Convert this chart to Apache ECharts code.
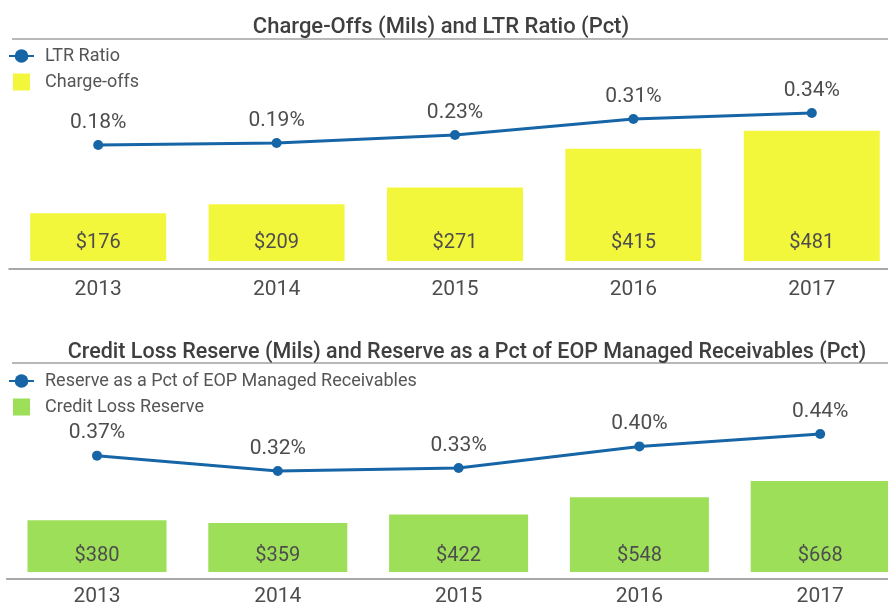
<!DOCTYPE html>
<html><head><meta charset="utf-8">
<script src="https://cdn.jsdelivr.net/npm/echarts@6/dist/echarts.min.js"></script>
<style>html,body{margin:0;padding:0;background:#fff}#c{width:888px;height:603px}</style>
</head><body><div id="c"></div>
<script>
const years = ['2013','2014','2015','2016','2017'];
const ltrRatio = [0.18,0.19,0.23,0.31,0.34];
const chargeOffs = [176,209,271,415,481];
const reservePct = [0.37,0.32,0.33,0.40,0.44];
const creditLossReserve = [380,359,422,548,668];

const FONT = "'Roboto','Noto Sans',sans-serif";
const TXT = '#4d4d4d';
const BLUE = '#1665a6';
const YELLOW = '#f3f73c';
const GREEN = '#9ddf58';
const AXIS = '#8c8c8c';

const chart = echarts.init(document.getElementById('c'), null, {renderer:'canvas'});
const pctLabel = p => p.value.toFixed(2) + '%';
const dolLabel = p => '$' + p.value;

chart.setOption({
  animation:false,
  textStyle:{fontFamily:FONT},
  title:[
    {text:'Charge-Offs (Mils) and LTR Ratio (Pct)', left:436, top:11, textAlign:'center',
     textStyle:{fontFamily:FONT, fontSize:22, fontWeight:500, color:'#3f3f3f'}},
    {text:'Credit Loss Reserve (Mils) and Reserve as a Pct of EOP Managed Receivables (Pct)', left:462, top:337, textAlign:'center',
     textStyle:{fontFamily:FONT, fontSize:21.5, fontWeight:500, color:'#3f3f3f'}}
  ],
  graphic:[
    {type:'line', shape:{x1:12,y1:39,x2:888,y2:39}, style:{stroke:'#a0a0a0', lineWidth:1.5}},
    {type:'line', shape:{x1:12,y1:363,x2:888,y2:363}, style:{stroke:'#a0a0a0', lineWidth:1.5}}
  ],
  legend:[
    {orient:'vertical', left:8, top:47, padding:0, itemWidth:25, itemHeight:17, itemGap:8,
     textStyle:{fontFamily:FONT, fontSize:18, color:'#555', padding:[0,0,0,6]},
     data:[{name:'LTR Ratio'},{name:'Charge-offs', icon:'path://M0,0L10,0L10,10L0,10Z'}]},
    {orient:'vertical', left:8, top:372, padding:0, itemWidth:25, itemHeight:17, itemGap:8,
     textStyle:{fontFamily:FONT, fontSize:18, color:'#555', padding:[0,0,0,6]},
     data:[{name:'Reserve as a Pct of EOP Managed Receivables'},{name:'Credit Loss Reserve', icon:'path://M0,0L10,0L10,10L0,10Z'}]}
  ],
  grid:[
    {left:9, width:892, top:100, height:169, outerBoundsMode:'none', containLabel:false},
    {left:6.6, width:904, top:420, height:159, outerBoundsMode:'none', containLabel:false}
  ],
  xAxis:[
    {type:'category', gridIndex:0, data:years, axisTick:{show:false},
     axisLine:{onZero:false, lineStyle:{color:AXIS, width:1.5}},
     axisLabel:{fontFamily:FONT, fontSize:21, color:TXT, margin:10}},
    {type:'category', gridIndex:1, data:years, axisTick:{show:false},
     axisLine:{onZero:false, lineStyle:{color:AXIS, width:1.5}},
     axisLabel:{fontFamily:FONT, fontSize:21, color:TXT, margin:7}}
  ],
  yAxis:[
    {type:'value', gridIndex:0, min:-30, max:595, show:false, splitLine:{show:false}},
    {type:'value', gridIndex:0, min:-0.44, max:0.405, show:false, splitLine:{show:false}},
    {type:'value', gridIndex:1, min:-51, max:1115, show:false, splitLine:{show:false}},
    {type:'value', gridIndex:1, min:-0.0305, max:0.4857, show:false, splitLine:{show:false}}
  ],
  series:[
    {name:'Charge-offs', type:'bar', xAxisIndex:0, yAxisIndex:0, data:chargeOffs, barWidth:136,
     itemStyle:{color:YELLOW},
     label:{show:true, position:'insideBottom', distance:8, formatter:dolLabel,
            fontFamily:FONT, fontSize:20, color:TXT}},
    {name:'LTR Ratio', type:'line', xAxisIndex:0, yAxisIndex:1, data:ltrRatio,
     symbol:'circle', symbolSize:10, lineStyle:{color:BLUE, width:3}, itemStyle:{color:BLUE},
     label:{show:true, position:'top', distance:7, formatter:pctLabel,
            fontFamily:FONT, fontSize:21, color:TXT}},
    {name:'Credit Loss Reserve', type:'bar', xAxisIndex:1, yAxisIndex:2, data:creditLossReserve, barWidth:139,
     itemStyle:{color:GREEN},
     label:{show:true, position:'insideBottom', distance:6, formatter:dolLabel,
            fontFamily:FONT, fontSize:20, color:TXT}},
    {name:'Reserve as a Pct of EOP Managed Receivables', type:'line', xAxisIndex:1, yAxisIndex:3, data:reservePct,
     symbol:'circle', symbolSize:10, lineStyle:{color:BLUE, width:3}, itemStyle:{color:BLUE},
     label:{show:true, position:'top', distance:7, formatter:pctLabel,
            fontFamily:FONT, fontSize:21, color:TXT}}
  ]
});
</script></body></html>
